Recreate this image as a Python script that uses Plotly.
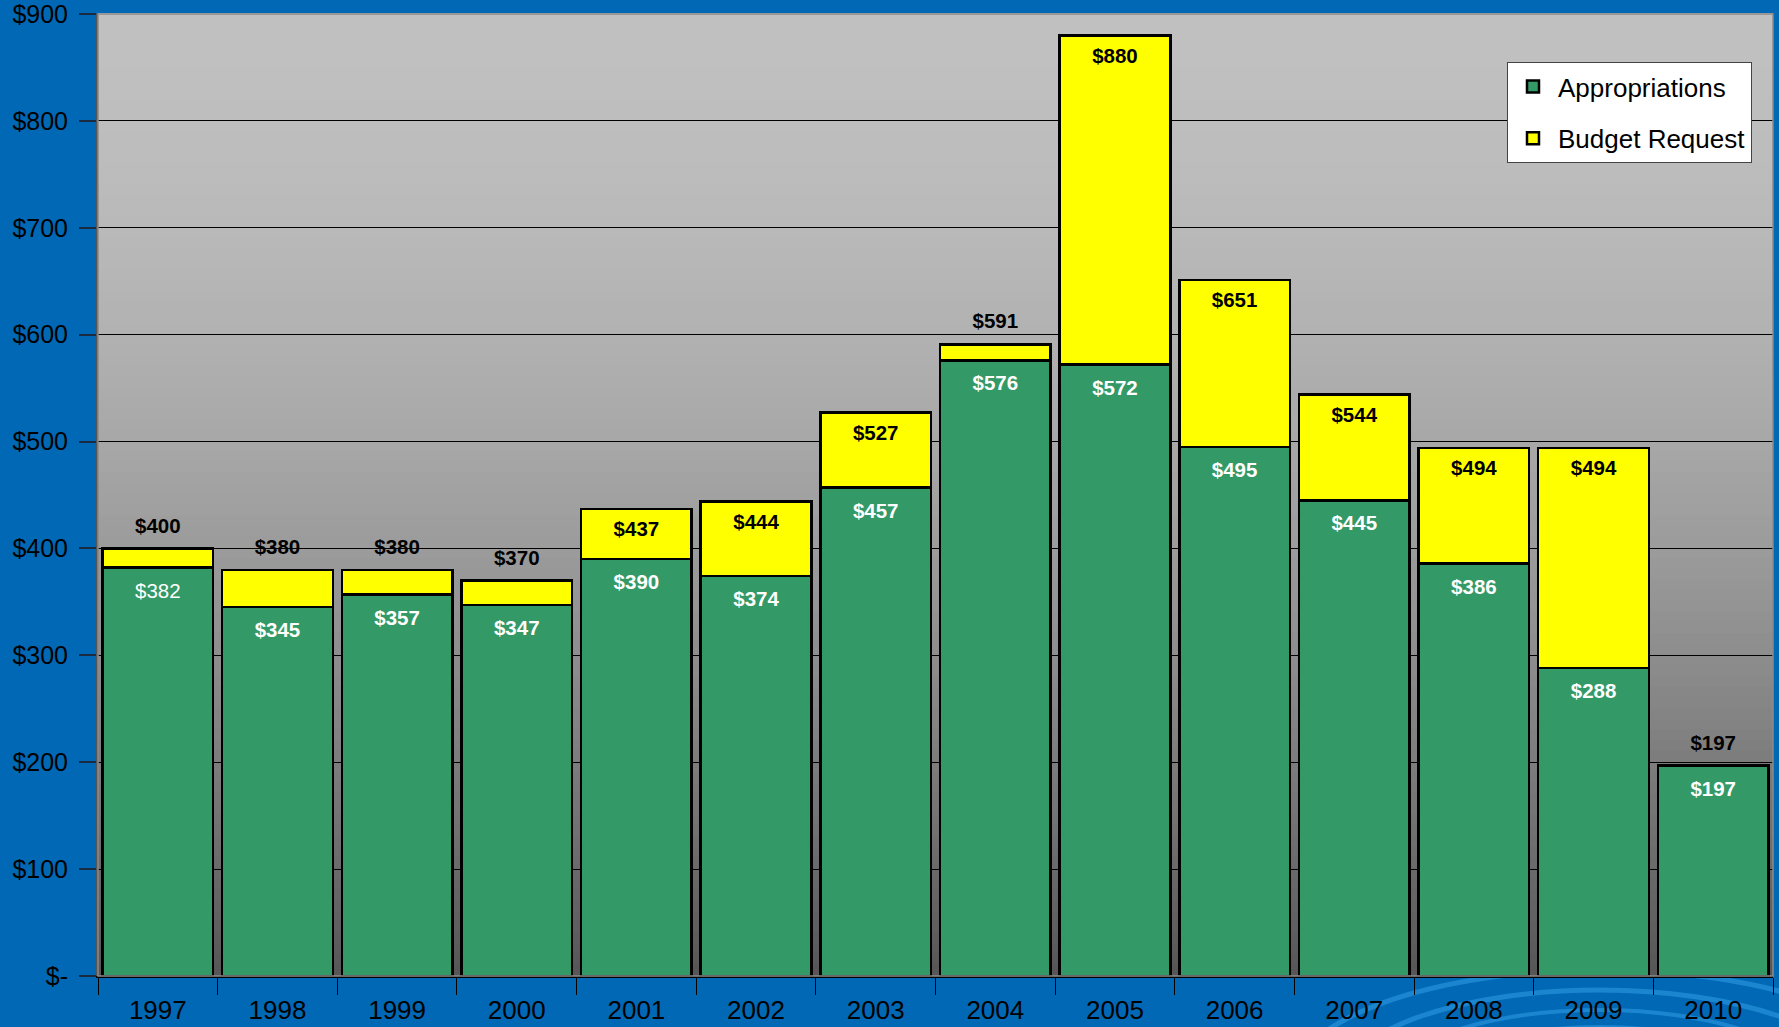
import plotly.graph_objects as go

years = ["1997", "1998", "1999", "2000", "2001", "2002", "2003",
         "2004", "2005", "2006", "2007", "2008", "2009", "2010"]
appropriations = [382, 345, 357, 347, 390, 374, 457, 576, 572, 495, 445, 386, 288, 197]
budget_request = [400, 380, 380, 370, 437, 444, 527, 591, 880, 651, 544, 494, 494, 197]
y_tick_values = [0, 100, 200, 300, 400, 500, 600, 700, 800, 900]
y_tick_labels = ["$-", "$100", "$200", "$300", "$400", "$500", "$600", "$700", "$800", "$900"]

GREEN = "#339966"
YELLOW = "#FFFF00"
FONT = "Liberation Sans, Arial, sans-serif"

W, H = 1779, 1027
ML, MR, MT, MB = 98, 6, 14, 51
Y_MAX = 900
PX_PER_UNIT = (H - MT - MB) / Y_MAX

request_extra = [r - a for r, a in zip(budget_request, appropriations)]

fig = go.Figure()
fig.add_trace(go.Bar(
    x=years, y=appropriations, name="Appropriations",
    marker=dict(color=GREEN, line=dict(color="black", width=2.5)),
    legendgroup="a", hoverinfo="skip",
))
fig.add_trace(go.Bar(
    x=years, y=request_extra, base=appropriations, name="Budget Request",
    marker=dict(color=YELLOW, line=dict(color="black", width=2.5)),
    legendgroup="b", hoverinfo="skip",
))

# data labels (text traces positioned from the data values)
req_y, req_text = [], []
for r, extra in zip(budget_request, request_extra):
    inside = extra >= 40
    shift_px = -22 if inside else 21
    req_y.append(r + shift_px / PX_PER_UNIT)
    req_text.append(f"<b>${r}</b>")
app_y = [a - 25 / PX_PER_UNIT for a in appropriations]
app_text = [f"${a}" if yr == "1997" else f"<b>${a}</b>" for yr, a in zip(years, appropriations)]

fig.add_trace(go.Scatter(
    x=years, y=req_y, text=req_text, mode="text", textposition="middle center",
    textfont=dict(family=FONT, size=20.5, color="black"),
    showlegend=False, hoverinfo="skip", cliponaxis=False,
))
fig.add_trace(go.Scatter(
    x=years, y=app_y, text=app_text, mode="text", textposition="middle center",
    textfont=dict(family=FONT, size=20.5, color="white"),
    showlegend=False, hoverinfo="skip", cliponaxis=False,
))

shapes = []
plot_h = H - MT - MB
plot_w = W - ML - MR
# swirl decoration in the blue background (bottom right)
for rx, ry, w in [(260, 95, 5), (210, 75, 4), (165, 58, 4), (310, 115, 5)]:
    cx, cy = 1600, 1085
    shapes.append(dict(type="circle", xref="paper", yref="paper", layer="below",
                       x0=(cx - rx - ML) / plot_w, x1=(cx + rx - ML) / plot_w,
                       y0=((H - MB) - (cy + ry)) / plot_h, y1=((H - MB) - (cy - ry)) / plot_h,
                       line=dict(color="rgba(60,170,240,0.45)", width=w)))

# gradient plot background
n = 90
for i in range(n):
    f0 = i / n
    f1 = (i + 1) / n
    fm = (f0 + f1) / 2  # fraction from top
    v = int(round(192 - 106 * fm ** 1.8))
    shapes.append(dict(type="rect", xref="x domain", yref="y domain", layer="below",
                       x0=0, x1=1, y0=1 - f1, y1=1 - f0 + 0.001,
                       fillcolor=f"rgb({v},{v},{v})", line=dict(width=0)))
# plot-area border (top and right)
shapes.append(dict(type="rect", xref="x domain", yref="y domain", layer="above",
                   x0=0, x1=1, y0=0, y1=1, line=dict(color="#8a8a8a", width=1.5),
                   fillcolor="rgba(0,0,0,0)"))

fig.update_layout(
    width=W, height=H,
    margin=dict(l=ML, r=MR, t=MT, b=MB, autoexpand=False),
    paper_bgcolor="#0068B5",
    plot_bgcolor="rgba(0,0,0,0)",
    barmode="stack", bargap=0.075,
    font=dict(family=FONT, color="black"),
    shapes=shapes,
    showlegend=True,
    legend=dict(
        x=(1507 - ML) / plot_w, y=1 - (62 - MT) / plot_h, xanchor="left", yanchor="top",
        bgcolor="white", bordercolor="#444", borderwidth=1,
        font=dict(family=FONT, size=26, color="black"),
        traceorder="grouped", tracegroupgap=15,
        itemwidth=40,
    ),
    xaxis=dict(
        type="category", tickson="boundaries", ticks="outside", ticklen=17,
        tickcolor="black", tickwidth=1,
        showline=True, linecolor="black", linewidth=2,
        showgrid=False, automargin=False,
        tickfont=dict(family=FONT, size=26, color="black"),
        ticklabelstandoff=10,
        range=[-0.5, len(years) - 0.5],
    ),
    yaxis=dict(
        range=[0, Y_MAX], tickvals=y_tick_values, ticktext=y_tick_labels,
        ticks="outside", ticklen=17, tickcolor="#1a2a40", tickwidth=1.5,
        showline=True, linecolor="#555", linewidth=2,
        showgrid=True, gridcolor="black", gridwidth=1,
        zeroline=False, automargin=False,
        tickfont=dict(family=FONT, size=25, color="black"),
        ticklabelstandoff=6, ticklabeloverflow="allow",
    ),
)

fig.write_html("out.html",
               config={"displayModeBar": False},
               post_script="document.body.style.margin='0';document.body.style.padding='0';")
